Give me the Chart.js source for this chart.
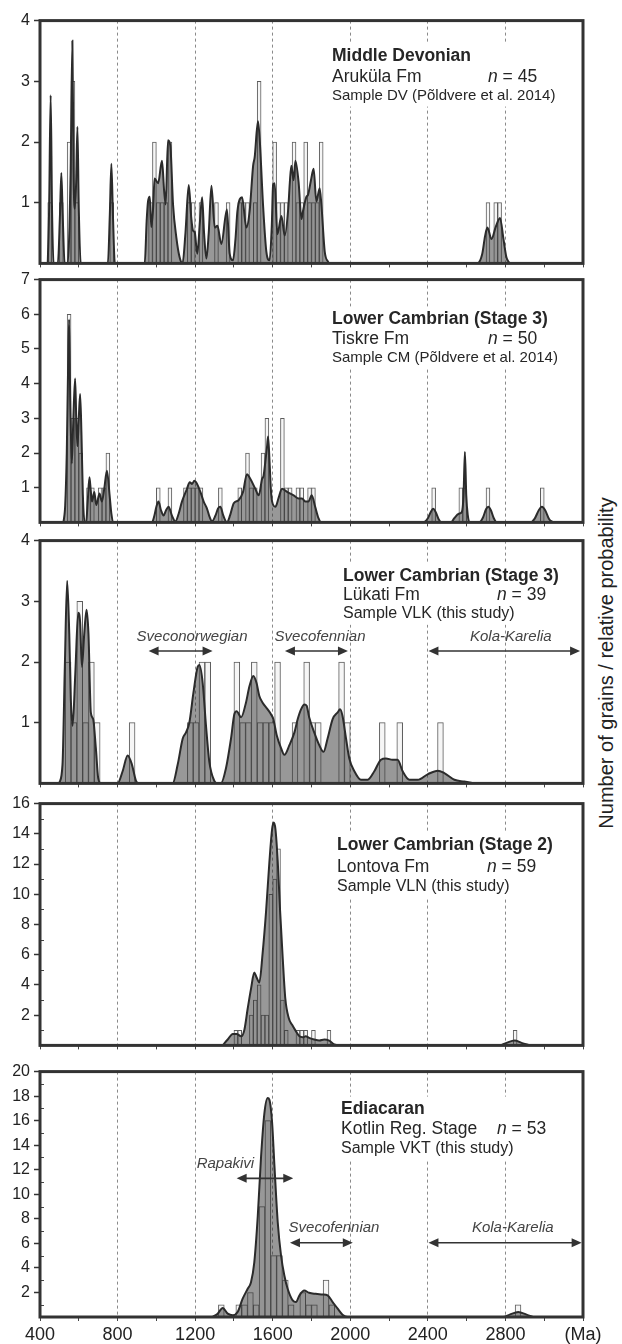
<!DOCTYPE html>
<html>
<head>
<meta charset="utf-8">
<script src="https://cdn.jsdelivr.net/npm/chart.js@4.4.1/dist/chart.umd.min.js"></script>
<style>
  body { margin: 0; background: #fff; }
  #page { position: relative; width: 622px; height: 1344px; overflow: hidden; font-family: "Liberation Sans", Arial, sans-serif; }
  #page canvas { position: absolute; left: 0; }
  #sideLabel {
    position: absolute; left: 606px; top: 663px; white-space: nowrap;
    transform: translate(-50%, -50%) rotate(-90deg);
    font-size: 20px; color: #222;
  }
</style>
</head>
<body>
<div id="page">
  <div id="sideLabel">Number of grains / relative probability</div>
</div>
<script>
// ---------- data (ages in Ma) ----------

// Middle Devonian, Aruküla Fm (20 Ma bins, bin centres)
const p1BinAge   = [450, 510, 550, 570, 590, 770, 970, 990, 1010, 1030, 1050, 1070, 1170, 1190, 1230, 1310, 1370,
                    1430, 1450, 1470, 1510, 1530, 1610, 1630, 1650, 1670, 1710, 1730, 1750, 1770, 1790, 1810, 1830, 1850,
                    2710, 2750, 2770];
const p1BinCount = [1, 1, 2, 3, 1, 1, 1, 2, 1, 1, 1, 2, 1, 1, 1, 1, 1,
                    1, 1, 1, 1, 3, 2, 1, 1, 1, 2, 1, 1, 2, 1, 1, 1, 2,
                    1, 1, 1];
const p1CurveAge  = [440, 447, 455, 462, 470, 492, 503, 510, 517, 527, 543, 552, 558, 567, 573, 579, 586, 593, 600, 610,
                     750, 760, 768, 776, 786, 940, 950, 957, 966, 974, 983, 991, 1009, 1029, 1040, 1048, 1060, 1072, 1086,
                     1103, 1120, 1135, 1150, 1167, 1180, 1189, 1198, 1211, 1225, 1236, 1246, 1258, 1270, 1284, 1301, 1315,
                     1335, 1364, 1378, 1395, 1408, 1418, 1442, 1464, 1481, 1499, 1507, 1524, 1533, 1550, 1567, 1584, 1595,
                     1602, 1610, 1624, 1645, 1662, 1680, 1688, 1696, 1708, 1717, 1734, 1748, 1756, 1774, 1782, 1799, 1811,
                     1825, 1842, 1851, 1868, 1885, 1895, 2655, 2680, 2695, 2707, 2728, 2750, 2772, 2790, 2805, 2822];
const p1CurveProb = [0, 0.9, 2.77, 0.9, 0, 0, 0.8, 1.49, 0.8, 0, 0, 0.6, 1.5, 3.67, 1.5, 0.9, 1.3, 2.25, 0.9, 0,
                     0, 0.8, 1.64, 0.8, 0, 0, 0.7, 1.02, 1.1, 0.6, 0.9, 1.4, 1.32, 1.69, 1.2, 0.97, 2.03, 1.94, 0.97,
                     0.43, 0.1, 0, 0.5, 1.29, 0.75, 0.54, 0.51, 0.16, 0.7, 1.09, 0.5, 0.08, 0.5, 1.28, 0.59, 0.62,
                     0.32, 0.89, 0.16, 0.05, 0.4, 0.86, 1.09, 0.59, 0.86, 1.61, 1.75, 2.34, 2.04, 0.97, 0.2, 0.05, 0.6,
                     1.29, 1.32, 0.48, 0.78, 0.46, 0.9, 1.32, 1.61, 1.37, 1.69, 1.32, 0.73, 0.86, 1.1, 1.13, 1.4, 1.56,
                     1.02, 1.24, 0.97, 0.2, 0.03, 0, 0, 0.15, 0.45, 0.59, 0.4, 0.6, 0.75, 0.4, 0.1, 0];

// Lower Cambrian (Stage 3), Tiskre Fm (20 Ma bins)
const p2BinAge   = [550, 570, 590, 610, 650, 670, 710, 730, 750, 1010, 1070, 1150, 1170, 1190, 1210, 1230, 1330,
                    1430, 1470, 1490, 1510, 1550, 1570, 1650, 1670, 1690, 1730, 1750, 1790, 1810,
                    2430, 2570, 2590, 2710, 2990];
const p2BinCount = [6, 3, 3, 2, 1, 1, 1, 1, 2, 1, 1, 1, 1, 1, 1, 1, 1,
                    1, 2, 1, 1, 2, 3, 3, 1, 1, 1, 1, 1, 1,
                    1, 1, 1, 1, 1];
const p2CurveAge  = [521, 530, 538, 545, 550, 556, 564, 572, 581, 587, 593, 600, 607, 614, 621, 630, 638, 646, 655, 662,
                     668, 680, 690, 707, 719, 732, 745, 759, 768, 779, 977, 990, 1000, 1011, 1024, 1037, 1050, 1063, 1080,
                     1098, 1115, 1132, 1158, 1172, 1184, 1196, 1210, 1227, 1244, 1261, 1275, 1287, 1305, 1318, 1330, 1345,
                     1364, 1380, 1399, 1424, 1447, 1467, 1485, 1510, 1528, 1545, 1553, 1565, 1571, 1576, 1584, 1590, 1597,
                     1614, 1630, 1648, 1674, 1691, 1708, 1734, 1751, 1769, 1784, 1801, 1819, 1836, 1850,
                     2375, 2400, 2415, 2427, 2440, 2455, 2470, 2520, 2536, 2560, 2575, 2584, 2591, 2598, 2606, 2615,
                     2665, 2685, 2700, 2712, 2725, 2740, 2755, 2930, 2950, 2972, 2988, 3005, 3025, 3045];
const p2CurveProb = [0, 0.5, 2.0, 4.5, 5.85, 3.5, 1.7, 3.0, 4.15, 3.0, 2.2, 3.0, 3.7, 2.5, 0.8, 0, 0, 0.6, 1.3, 0.9,
                     0.6, 0.88, 0.5, 0.83, 0.6, 1.0, 1.49, 0.78, 0.25, 0, 0, 0.2, 0.45, 0.6, 0.35, 0.2, 0.35, 0.45, 0.2,
                     0.03, 0.25, 0.6, 0.97, 1.16, 1.11, 1.2, 1.11, 0.88, 0.6, 0.4, 0.15, 0.03, 0.2, 0.4, 0.45, 0.2,
                     0, 0.2, 0.55, 0.64, 0.88, 1.39, 1.25, 0.97, 0.78, 1.25, 1.35, 1.9, 2.2, 2.48, 1.72, 1.0, 0.6,
                     0.45, 0.7, 0.97, 0.88, 0.83, 0.78, 0.69, 0.69, 0.6, 0.6, 0.78, 0.45, 0.12, 0,
                     0, 0.12, 0.3, 0.39, 0.3, 0.1, 0, 0, 0.12, 0.25, 0.3, 0.78, 2.03, 0.78, 0.2, 0,
                     0, 0.15, 0.38, 0.45, 0.35, 0.12, 0, 0, 0.1, 0.35, 0.45, 0.35, 0.1, 0];

// Lower Cambrian (Stage 3), Lükati Fm (30 Ma bins)
const p3BinAge   = [545, 575, 605, 635, 665, 695, 875, 1175, 1205, 1235, 1265, 1415, 1445, 1475, 1505, 1535, 1565,
                    1595, 1625, 1715, 1775, 1805, 1835, 1955, 1985, 2165, 2255, 2465];
const p3BinCount = [2, 1, 3, 1, 2, 1, 1, 1, 1, 2, 2, 2, 1, 1, 2, 1, 1,
                    1, 2, 1, 2, 1, 1, 2, 1, 1, 1, 1];
const p3CurveAge  = [499, 516, 528, 540, 551, 559, 568, 582, 597, 607, 616, 628, 640, 650, 662, 674, 688, 700, 714,
                     800, 826, 852, 874, 895, 908, 1084, 1110, 1136, 1153, 1170, 1191, 1213, 1222, 1239, 1256, 1273,
                     1299, 1316, 1333, 1359, 1385, 1402, 1414, 1437, 1462, 1480, 1500, 1517, 1531, 1548, 1574, 1591,
                     1603, 1621, 1643, 1660, 1686, 1712, 1729, 1746, 1764, 1775, 1788, 1814, 1840, 1862, 1883, 1909,
                     1935, 1947, 1960, 1978, 1995, 2021, 2055, 2090, 2124, 2158, 2184, 2218, 2244, 2270, 2305, 2348,
                     2399, 2451, 2485, 2537, 2588, 2640];
const p3CurveProb = [0, 0.31, 1.92, 3.34, 2.46, 1.38, 0.95, 1.81, 2.81, 2.65, 1.92, 2.46, 2.86, 2.46, 1.17, 1.06, 0.58, 0.09, 0,
                     0, 0.2, 0.46, 0.31, 0.04, 0, 0, 0.31, 0.74, 0.84, 1.0, 1.49, 1.92, 1.95, 1.65, 0.95, 0.36,
                     0.04, 0, 0, 0.25, 0.74, 1.14, 1.19, 1.09, 1.33, 1.6, 1.77, 1.65, 1.44, 1.33, 1.22, 1.14,
                     1.06, 0.79, 0.58, 0.47, 0.63, 0.84, 1.06, 1.22, 1.3, 1.28, 1.09, 0.84, 0.63, 0.52, 0.74, 1.06,
                     1.17, 1.22, 1.11, 0.74, 0.41, 0.2, 0.06, 0.06, 0.2, 0.39, 0.41, 0.39, 0.39, 0.2, 0.06, 0.06,
                     0.15, 0.21, 0.17, 0.06, 0.03, 0];

// Lower Cambrian (Stage 2), Lontova Fm (20 Ma bins)
const p4BinAge   = [1410, 1430, 1490, 1510, 1530, 1550, 1570, 1590, 1610, 1630, 1650, 1670, 1730, 1750, 1770, 1810, 1890, 2850];
const p4BinCount = [1, 1, 2, 3, 4, 2, 2, 10, 11, 13, 3, 1, 1, 1, 1, 1, 1, 1];
const p4CurveAge  = [1342, 1368, 1394, 1414, 1437, 1454, 1471, 1488, 1505, 1517, 1531, 1548, 1566, 1583, 1597, 1605, 1614,
                     1626, 1638, 1652, 1665, 1683, 1700, 1720, 1738, 1755, 1770, 1788, 1814, 1840, 1866, 1891, 1917, 1943,
                     2771, 2805, 2848, 2883, 2926];
const p4CurveProb = [0, 0.39, 0.76, 0.76, 0.6, 1.04, 2.44, 3.74, 4.82, 4.49, 4.17, 6.11, 8.92, 12.16, 14.32, 14.75, 14.32,
                     12.16, 8.92, 5.68, 3.09, 1.79, 1.36, 0.93, 0.6, 0.54, 0.6, 0.5, 0.39, 0.32, 0.39, 0.32, 0.06, 0,
                     0, 0.17, 0.32, 0.17, 0];

// Ediacaran, Kotlin Reg. Stage (30 Ma bins)
const p5BinAge   = [1335, 1425, 1455, 1485, 1515, 1545, 1575, 1605, 1635, 1665, 1695, 1755, 1785, 1815, 1875, 1905, 2865];
const p5BinCount = [1, 1, 1, 2, 1, 9, 16, 5, 5, 3, 1, 2, 1, 1, 3, 1, 1];
const p5CurveAge  = [1290, 1316, 1342, 1368, 1394, 1419, 1445, 1471, 1488, 1505, 1523, 1540, 1557, 1574, 1583, 1597, 1609,
                     1626, 1643, 1660, 1677, 1703, 1720, 1738, 1762, 1788, 1822, 1857, 1883, 1909, 1935, 1960, 1986,
                     2788, 2822, 2866, 2909, 2943];
const p5CurveProb = [0, 0.27, 0.73, 0.27, 0.14, 0.4, 1.49, 2.3, 2.84, 4.46, 8.24, 13.1, 16.6, 17.84, 17.7, 15.8, 12.3,
                     7.7, 5.0, 3.38, 2.3, 1.35, 1.22, 1.76, 2.16, 1.97, 1.89, 1.84, 1.76, 1.22, 0.68, 0.19, 0,
                     0, 0.19, 0.4, 0.19, 0];

// panel captions
const p1Title = ['Middle Devonian', 'Aruküla Fm', '45', 'Sample DV (Põldvere et al. 2014)'];
const p2Title = ['Lower Cambrian (Stage 3)', 'Tiskre Fm', '50', 'Sample CM (Põldvere et al. 2014)'];
const p3Title = ['Lower Cambrian (Stage 3)', 'Lükati Fm', '39', 'Sample VLK (this study)'];
const p4Title = ['Lower Cambrian (Stage 2)', 'Lontova Fm', '59', 'Sample VLN (this study)'];
const p5Title = ['Ediacaran', 'Kotlin Reg. Stage', '53', 'Sample VKT (this study)'];

// source-province ranges (Ma) and the count level they sit at
const p3RangeName  = ['Sveconorwegian', 'Svecofennian', 'Kola-Karelia'];
const p3RangeFrom  = [960, 1663, 2403];
const p3RangeTo    = [1290, 1988, 3185];
const p3RangeLabel = [1184, 1844, 2828];
const p3RangeLevel = [2.18, 2.18, 2.18];
const p5RangeName  = ['Rapakivi', 'Svecofennian', 'Kola-Karelia'];
const p5RangeFrom  = [1414, 1689, 2403];
const p5RangeTo    = [1706, 2013, 3193];
const p5RangeLabel = [1356, 1916, 2838];
const p5RangeLevel = [11.3, 6.05, 6.05];

const ageTicksMajor = [400, 800, 1200, 1600, 2000, 2400, 2800, 3200];

// ---------- layout ----------
const FONT = '"Liberation Sans", Arial, sans-serif';
Chart.defaults.font.family = FONT;
Chart.defaults.color = '#222';

const panels = [
  { top: 19,   bottom: 267,  yMax: 4,  yTicks: [1, 2, 3, 4], bins: [p1BinAge, p1BinCount], curve: [p1CurveAge, p1CurveProb],
    title: p1Title, tx: 332, nx: 488, ty: [36, 57, 75], f3: 15 },
  { top: 278,  bottom: 526,  yMax: 7,  yTicks: [1, 2, 3, 4, 5, 6, 7], bins: [p2BinAge, p2BinCount], curve: [p2CurveAge, p2CurveProb],
    title: p2Title, tx: 332, nx: 488, ty: [40, 60, 78], f3: 15 },
  { top: 539,  bottom: 787,  yMax: 4,  yTicks: [1, 2, 3, 4], bins: [p3BinAge, p3BinCount], curve: [p3CurveAge, p3CurveProb],
    title: p3Title, tx: 343, nx: 497, ty: [36, 55, 73], f3: 16,
    ranges: [p3RangeName, p3RangeFrom, p3RangeTo, p3RangeLabel, p3RangeLevel], labelLift: 0.24 },
  { top: 802,  bottom: 1049, yMax: 16, yTicks: [2, 4, 6, 8, 10, 12, 14, 16], minorY: true, bins: [p4BinAge, p4BinCount], curve: [p4CurveAge, p4CurveProb],
    title: p4Title, tx: 337, nx: 487, ty: [42, 64, 83], f3: 16 },
  { top: 1070, bottom: 1317, yMax: 20, yTicks: [2, 4, 6, 8, 10, 12, 14, 16, 18, 20], minorY: true, bins: [p5BinAge, p5BinCount], curve: [p5CurveAge, p5CurveProb],
    title: p5Title, tx: 341, nx: 497, ty: [38, 58, 77], f3: 16, showAges: true,
    ranges: [p5RangeName, p5RangeFrom, p5RangeTo, p5RangeLabel, p5RangeLevel], labelLift: 1.2 }
];

function drawArrow(ctx, x1, x2, y) {
  const head = 10, half = 4.5;
  ctx.beginPath();
  ctx.moveTo(x1 + head - 1, y);
  ctx.lineTo(x2 - head + 1, y);
  ctx.stroke();
  ctx.beginPath();
  ctx.moveTo(x1, y); ctx.lineTo(x1 + head, y - half); ctx.lineTo(x1 + head, y + half); ctx.closePath();
  ctx.moveTo(x2, y); ctx.lineTo(x2 - head, y - half); ctx.lineTo(x2 - head, y + half); ctx.closePath();
  ctx.fill();
}

function decor(p) {
  return {
    id: 'decor',
    beforeDatasetsDraw(chart) {
      const ctx = chart.ctx, top = chart.chartArea.top;
      const [t1, t2, n, t3] = p.title;
      ctx.save();
      ctx.textBaseline = 'middle';
      ctx.textAlign = 'left';
      // white box behind caption (breaks the dashed grid lines like the original)
      ctx.font = 'bold 17.5px ' + FONT;
      let w = ctx.measureText(t1).width;
      ctx.font = '17.5px ' + FONT;
      const nw = ctx.measureText('n = ' + n).width;
      ctx.font = p.f3 + 'px ' + FONT;
      w = Math.max(w, ctx.measureText(t3).width, p.nx - p.tx + nw);
      ctx.fillStyle = '#fff';
      ctx.fillRect(p.tx - 8, top + p.ty[0] - 13, w + 16, p.ty[2] - p.ty[0] + 24);

      ctx.fillStyle = '#262626';
      ctx.font = 'bold 17.5px ' + FONT;
      ctx.fillText(t1, p.tx, top + p.ty[0]);
      ctx.font = '17.5px ' + FONT;
      ctx.fillText(t2, p.tx, top + p.ty[1]);
      ctx.font = 'italic 17.5px ' + FONT;
      ctx.fillText('n', p.nx, top + p.ty[1]);
      const iw = ctx.measureText('n').width;
      ctx.font = '17.5px ' + FONT;
      ctx.fillText(' = ' + n, p.nx + iw, top + p.ty[1]);
      ctx.font = p.f3 + 'px ' + FONT;
      ctx.fillText(t3, p.tx, top + p.ty[2]);
      ctx.restore();
    },
    afterDatasetsDraw(chart) {
      const ctx = chart.ctx, a = chart.chartArea;
      const xs = chart.scales.x, ys = chart.scales.y;
      ctx.save();
      if (p.ranges) {
        const [names, from, to, lab, lev] = p.ranges;
        ctx.strokeStyle = '#333';
        ctx.fillStyle = '#333';
        ctx.lineWidth = 1.6;
        names.forEach((name, i) => {
          const y = ys.getPixelForValue(lev[i]);
          drawArrow(ctx, xs.getPixelForValue(from[i]), xs.getPixelForValue(to[i]), y);
        });
        ctx.fillStyle = '#444';
        ctx.font = 'italic 15px ' + FONT;
        ctx.textAlign = 'center';
        ctx.textBaseline = 'middle';
        names.forEach((name, i) => {
          ctx.fillText(name, xs.getPixelForValue(lab[i]), ys.getPixelForValue(lev[i] + p.labelLift));
        });
      }
      // small inner ticks at the odd counts on the tall panels
      if (p.minorY) {
        ctx.strokeStyle = '#444';
        ctx.lineWidth = 1;
        ctx.beginPath();
        for (let v = 1; v < p.yMax; v += 2) {
          const y = Math.round(ys.getPixelForValue(v)) + 0.5;
          ctx.moveTo(a.left, y);
          ctx.lineTo(a.left + 4, y);
        }
        ctx.stroke();
      }
      // heavy frame round the panel
      ctx.strokeStyle = '#333';
      ctx.lineWidth = 3;
      ctx.strokeRect(a.left, a.top, a.right - a.left, a.bottom - a.top);
      ctx.restore();
    }
  };
}

const page = document.getElementById('page');

panels.forEach(p => {
  const axisH = p.showAges ? 34 : 10;
  const h = p.bottom - p.top + 12 + axisH;
  const canvas = document.createElement('canvas');
  canvas.width = 622;
  canvas.height = h;
  canvas.style.top = (p.top - 12) + 'px';
  canvas.style.width = '622px';
  canvas.style.height = h + 'px';
  page.appendChild(canvas);

  const [binAge, binCount] = p.bins;
  const [curveAge, curveProb] = p.curve;

  new Chart(canvas, {
    type: 'bar',
    data: {
      datasets: [
        {
          type: 'line',
          data: curveAge.map((age, i) => ({ x: age, y: curveProb[i] })),
          borderColor: '#2b2b2b',
          borderWidth: 2,
          backgroundColor: 'rgba(50,50,50,0.5)',
          fill: 'origin',
          pointRadius: 0,
          cubicInterpolationMode: 'monotone',
          order: 1
        },
        {
          type: 'bar',
          data: binAge.map((age, i) => ({ x: age, y: binCount[i] })),
          backgroundColor: '#f6f6f6',
          borderColor: '#5c5c5c',
          borderWidth: 1,
          barPercentage: 1,
          categoryPercentage: 1,
          order: 2
        }
      ]
    },
    options: {
      responsive: false,
      animation: false,
      devicePixelRatio: 1,
      events: [],
      layout: { padding: { top: 12, right: 39, bottom: 0, left: 0 } },
      plugins: { legend: { display: false }, tooltip: { enabled: false } },
      scales: {
        x: {
          type: 'linear',
          min: 400,
          max: 3200,
          offset: false,
          afterFit: s => { s.height = axisH; },
          ticks: {
            stepSize: 200,
            display: !!p.showAges,
            autoSkip: false,
            maxRotation: 0,
            padding: 3,
            color: '#222',
            font: { size: 18 },
            callback: v => ageTicksMajor.includes(v) ? (v === 3200 ? '(Ma)' : String(v)) : ''
          },
          grid: {
            offset: false,
            color: c => (ageTicksMajor.includes(c.tick.value) && c.tick.value > 400 && c.tick.value < 3200) ? '#8a8a8a' : 'rgba(0,0,0,0)',
            lineWidth: 1,
            drawTicks: true,
            tickLength: 4,
            tickColor: '#444',
            tickWidth: 1,
            tickBorderDash: []
          },
          border: { display: false, dash: [3, 3] }
        },
        y: {
          min: 0,
          max: p.yMax,
          afterFit: s => { s.width = 40; },
          afterBuildTicks: s => { s.ticks = p.yTicks.map(v => ({ value: v })); },
          ticks: { padding: 4, color: '#222', font: { size: 16 } },
          grid: { drawOnChartArea: false, drawTicks: true, tickLength: 6, tickColor: '#333', tickWidth: 1.5 },
          border: { display: false }
        }
      }
    },
    plugins: [decor(p)]
  });
});
</script>
</body>
</html>
